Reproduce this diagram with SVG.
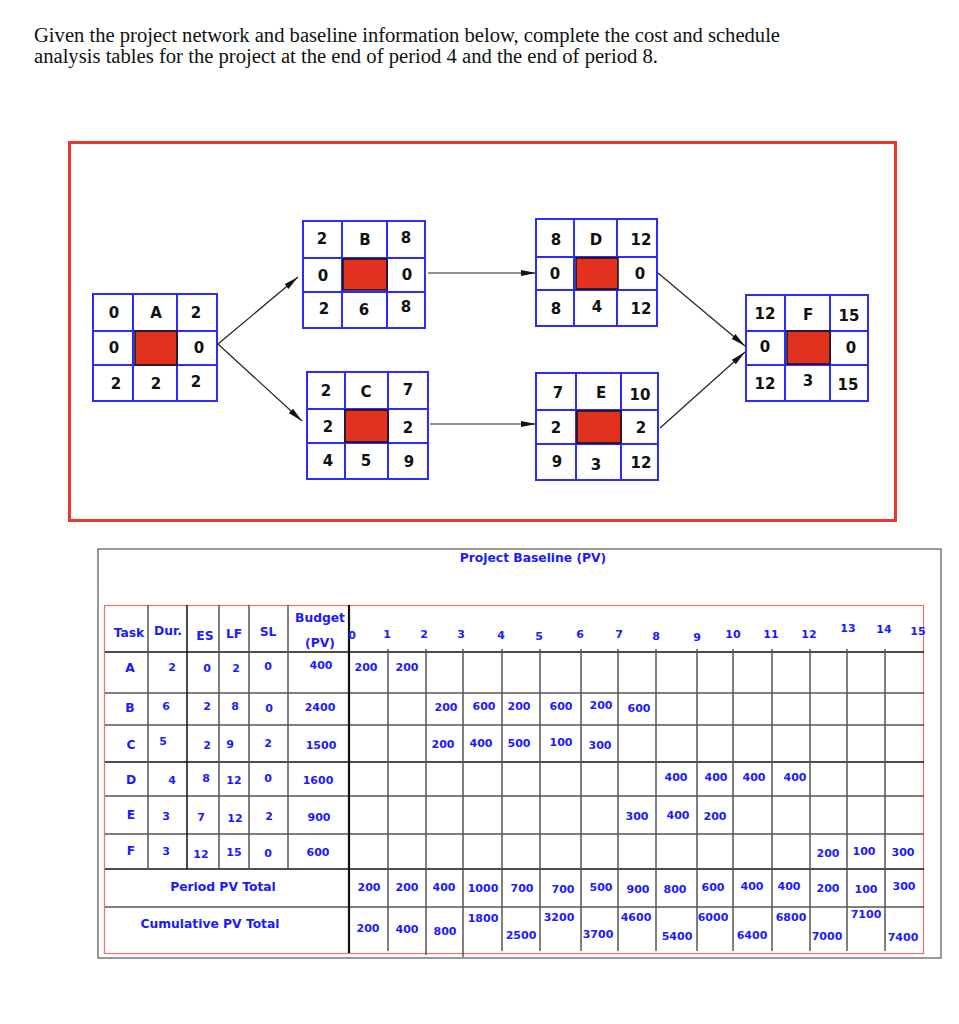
<svg xmlns="http://www.w3.org/2000/svg" width="959" height="1024" viewBox="0 0 959 1024">
<style>
.title{font-family:"Liberation Serif","Times New Roman",serif;font-size:20.5px;fill:#111}
.cell{fill:#fff;stroke:#2b2bff;stroke-width:2}
.ln{stroke:#2b2bff;stroke-width:2}
.red{fill:#e2321f;stroke:#111;stroke-width:1.5}
.nt{font-family:"DejaVu Sans",sans-serif;font-weight:bold;font-size:15px;fill:#111;text-anchor:middle}
.conn{stroke:#222;stroke-width:1.2;fill:none;marker-end:url(#ah)}
.tb{font-family:"DejaVu Sans",sans-serif;font-weight:bold;font-size:11px;fill:#1a1aff;text-anchor:middle}
.th{font-family:"DejaVu Sans",sans-serif;font-weight:bold;font-size:12.3px;fill:#1a1aff;text-anchor:middle}
.g{stroke:#555;stroke-width:1.5}
.k{stroke:#111;stroke-width:1.5}
</style>
<defs>
<marker id="ah" viewBox="0 0 15 8" refX="15" refY="4" markerWidth="15" markerHeight="8" markerUnits="userSpaceOnUse" orient="auto">
<path d="M0,1 L15,4 L0,7 Z" fill="#111"/>
</marker>
</defs>
<rect width="959" height="1024" fill="#fff"/>
<text class="title" x="34" y="42" textLength="746" lengthAdjust="spacingAndGlyphs">Given the project network and baseline information below, complete the cost and schedule</text>
<text class="title" x="34" y="63" textLength="624" lengthAdjust="spacingAndGlyphs">analysis tables for the project at the end of period 4 and the end of period 8.</text>

<rect x="69.5" y="142.5" width="826" height="378" fill="none" stroke="#e8382c" stroke-width="3"/>

<g id="connectors">
<line class="conn" x1="218" y1="344" x2="298" y2="277"/>
<line class="conn" x1="218" y1="344" x2="302" y2="421"/>
<line class="conn" x1="428" y1="273" x2="536" y2="273"/>
<line class="conn" x1="430" y1="424" x2="536" y2="424"/>
<line class="conn" x1="658" y1="273" x2="745" y2="346"/>
<line class="conn" x1="660" y1="428" x2="745" y2="352"/>
</g>

<g id="node-A">
<rect class="cell" x="93" y="294" width="124" height="107"/>
<line class="ln" x1="133" y1="294" x2="133" y2="401"/><line class="ln" x1="177" y1="294" x2="177" y2="401"/>
<line class="ln" x1="93" y1="331" x2="217" y2="331"/><line class="ln" x1="93" y1="365" x2="217" y2="365"/>
<rect class="red" x="135" y="331" width="42" height="34"/>
<text class="nt" x="114" y="318">0</text><text class="nt" x="156" y="318">A</text><text class="nt" x="196" y="318">2</text>
<text class="nt" x="114" y="353">0</text><text class="nt" x="199" y="353">0</text>
<text class="nt" x="116" y="389">2</text><text class="nt" x="156" y="389">2</text><text class="nt" x="196" y="387">2</text>
</g>

<g id="node-B">
<rect class="cell" x="303" y="221" width="122" height="107"/>
<line class="ln" x1="342" y1="221" x2="342" y2="328"/><line class="ln" x1="387" y1="221" x2="387" y2="328"/>
<line class="ln" x1="303" y1="258" x2="425" y2="258"/><line class="ln" x1="303" y1="292" x2="425" y2="292"/>
<rect class="red" x="343" y="259" width="44" height="31"/>
<text class="nt" x="322" y="244">2</text><text class="nt" x="365" y="245">B</text><text class="nt" x="406" y="243">8</text>
<text class="nt" x="323" y="281">0</text><text class="nt" x="407" y="280">0</text>
<text class="nt" x="324" y="314">2</text><text class="nt" x="364" y="315">6</text><text class="nt" x="406" y="312">8</text>
</g>

<g id="node-C">
<rect class="cell" x="307" y="372" width="121" height="107"/>
<line class="ln" x1="345" y1="372" x2="345" y2="479"/><line class="ln" x1="388" y1="372" x2="388" y2="479"/>
<line class="ln" x1="307" y1="409" x2="428" y2="409"/><line class="ln" x1="307" y1="443" x2="428" y2="443"/>
<rect class="red" x="345" y="410" width="43" height="32"/>
<text class="nt" x="326" y="396">2</text><text class="nt" x="366" y="397">C</text><text class="nt" x="408" y="395">7</text>
<text class="nt" x="328" y="432">2</text><text class="nt" x="408" y="433">2</text>
<text class="nt" x="328" y="466">4</text><text class="nt" x="366" y="466">5</text><text class="nt" x="409" y="467">9</text>
</g>

<g id="node-D">
<rect class="cell" x="536" y="219" width="121" height="107"/>
<line class="ln" x1="574" y1="219" x2="574" y2="326"/><line class="ln" x1="617" y1="219" x2="617" y2="326"/>
<line class="ln" x1="536" y1="257" x2="657" y2="257"/><line class="ln" x1="536" y1="290" x2="657" y2="290"/>
<rect class="red" x="576" y="258" width="42" height="31"/>
<text class="nt" x="556" y="245">8</text><text class="nt" x="596" y="245">D</text><text class="nt" x="641" y="245">12</text>
<text class="nt" x="555" y="279">0</text><text class="nt" x="640" y="279">0</text>
<text class="nt" x="556" y="314">8</text><text class="nt" x="597" y="312">4</text><text class="nt" x="641" y="314">12</text>
</g>

<g id="node-E">
<rect class="cell" x="536" y="373" width="122" height="107"/>
<line class="ln" x1="576" y1="373" x2="576" y2="480"/><line class="ln" x1="621" y1="373" x2="621" y2="480"/>
<line class="ln" x1="536" y1="410" x2="658" y2="410"/><line class="ln" x1="536" y1="444" x2="658" y2="444"/>
<rect class="red" x="577" y="411" width="44" height="32"/>
<text class="nt" x="558" y="398">7</text><text class="nt" x="601" y="398">E</text><text class="nt" x="640" y="400">10</text>
<text class="nt" x="556" y="433">2</text><text class="nt" x="641" y="433">2</text>
<text class="nt" x="557" y="467">9</text><text class="nt" x="596" y="470">3</text><text class="nt" x="641" y="468">12</text>
</g>

<g id="node-F">
<rect class="cell" x="746" y="295" width="122" height="106"/>
<line class="ln" x1="785" y1="295" x2="785" y2="401"/><line class="ln" x1="830" y1="295" x2="830" y2="401"/>
<line class="ln" x1="746" y1="331" x2="868" y2="331"/><line class="ln" x1="746" y1="365" x2="868" y2="365"/>
<rect class="red" x="787" y="331" width="43" height="33"/>
<text class="nt" x="765" y="319">12</text><text class="nt" x="808" y="320">F</text><text class="nt" x="849" y="321">15</text>
<text class="nt" x="765" y="352">0</text><text class="nt" x="851" y="353">0</text>
<text class="nt" x="765" y="389">12</text><text class="nt" x="808" y="386">3</text><text class="nt" x="848" y="390">15</text>
</g>

<g id="baseline-table">
<rect x="98" y="549" width="843" height="409" fill="none" stroke="#333" stroke-width="1"/>
<rect x="104.5" y="605.5" width="819" height="348" fill="none" stroke="#f07070" stroke-width="1.2"/>
<text class="th" x="533" y="562">Project Baseline (PV)</text>

<line class="k" x1="105" y1="652" x2="924" y2="652"/>
<line class="g" x1="105" y1="693" x2="924" y2="693"/>
<line class="g" x1="105" y1="725" x2="924" y2="725"/>
<line class="k" x1="105" y1="762" x2="924" y2="762"/>
<line class="g" x1="105" y1="796" x2="924" y2="796"/>
<line class="g" x1="105" y1="834" x2="924" y2="834"/>
<line class="k" x1="105" y1="869" x2="924" y2="869"/>
<line class="g" x1="105" y1="907" x2="924" y2="907"/>

<line class="g" x1="148" y1="605" x2="148" y2="869"/>
<line class="k" x1="187" y1="605" x2="187" y2="869"/>
<line class="g" x1="219" y1="605" x2="219" y2="869"/>
<line class="g" x1="249" y1="605" x2="249" y2="869"/>
<line class="g" x1="288" y1="605" x2="288" y2="869"/>
<line stroke="#111" stroke-width="2.2" x1="349" y1="605" x2="349" y2="953"/>

<g class="g">
<line x1="388" y1="649" x2="388" y2="951"/>
<line x1="426" y1="649" x2="426" y2="955"/>
<line x1="463" y1="649" x2="463" y2="957"/>
<line x1="502" y1="649" x2="502" y2="951"/>
<line x1="540" y1="649" x2="540" y2="951"/>
<line x1="581" y1="649" x2="581" y2="951"/>
<line x1="618" y1="649" x2="618" y2="951"/>
<line x1="656" y1="649" x2="656" y2="951"/>
<line x1="697" y1="649" x2="697" y2="951"/>
<line x1="733" y1="649" x2="733" y2="951"/>
<line x1="772" y1="649" x2="772" y2="951"/>
<line x1="810" y1="649" x2="810" y2="951"/>
<line x1="847" y1="649" x2="847" y2="951"/>
<line x1="885" y1="649" x2="885" y2="951"/>
</g>

<text class="th" x="129" y="637">Task</text>
<text class="th" x="168" y="635">Dur.</text>
<text class="th" x="205" y="640">ES</text>
<text class="th" x="234" y="638">LF</text>
<text class="th" x="268" y="636">SL</text>
<text class="th" x="320" y="622">Budget</text>
<text class="th" x="320" y="647">(PV)</text>
<text class="tb" x="352" y="639">0</text>
<text class="tb" x="387" y="638">1</text>
<text class="tb" x="424" y="638">2</text>
<text class="tb" x="461" y="638">3</text>
<text class="tb" x="501" y="639">4</text>
<text class="tb" x="539" y="640">5</text>
<text class="tb" x="580" y="638">6</text>
<text class="tb" x="619" y="638">7</text>
<text class="tb" x="656" y="640">8</text>
<text class="tb" x="697" y="641">9</text>
<text class="tb" x="733" y="638">10</text>
<text class="tb" x="771" y="638">11</text>
<text class="tb" x="809" y="638">12</text>
<text class="tb" x="848" y="632">13</text>
<text class="tb" x="884" y="633">14</text>
<text class="tb" x="918" y="635">15</text>

<text class="th" x="130" y="672">A</text>
<text class="tb" x="172" y="671">2</text><text class="tb" x="207" y="672">0</text><text class="tb" x="236" y="672">2</text><text class="tb" x="268" y="670">0</text><text class="tb" x="321" y="669">400</text>
<text class="tb" x="366" y="671">200</text><text class="tb" x="407" y="671">200</text>
<text class="th" x="130" y="712">B</text>
<text class="tb" x="166" y="710">6</text><text class="tb" x="207" y="710">2</text><text class="tb" x="235" y="710">8</text><text class="tb" x="269" y="712">0</text><text class="tb" x="320" y="711">2400</text>
<text class="tb" x="446" y="711">200</text><text class="tb" x="484" y="710">600</text><text class="tb" x="519" y="710">200</text><text class="tb" x="561" y="710">600</text><text class="tb" x="601" y="709">200</text><text class="tb" x="639" y="712">600</text>
<text class="th" x="131" y="749">C</text>
<text class="tb" x="163" y="745">5</text><text class="tb" x="207" y="749">2</text><text class="tb" x="230" y="748">9</text><text class="tb" x="268" y="747">2</text><text class="tb" x="321" y="749">1500</text>
<text class="tb" x="443" y="748">200</text><text class="tb" x="481" y="747">400</text><text class="tb" x="519" y="747">500</text><text class="tb" x="561" y="746">100</text><text class="tb" x="600" y="749">300</text>
<text class="th" x="131" y="784">D</text>
<text class="tb" x="172" y="784">4</text><text class="tb" x="206" y="782">8</text><text class="tb" x="234" y="784">12</text><text class="tb" x="268" y="782">0</text><text class="tb" x="318" y="784">1600</text>
<text class="tb" x="676" y="781">400</text><text class="tb" x="716" y="781">400</text><text class="tb" x="754" y="781">400</text><text class="tb" x="795" y="781">400</text>
<text class="th" x="131" y="819">E</text>
<text class="tb" x="166" y="820">3</text><text class="tb" x="201" y="821">7</text><text class="tb" x="235" y="822">12</text><text class="tb" x="269" y="820">2</text><text class="tb" x="319" y="821">900</text>
<text class="tb" x="637" y="820">300</text><text class="tb" x="678" y="819">400</text><text class="tb" x="715" y="820">200</text>
<text class="th" x="131" y="855">F</text>
<text class="tb" x="166" y="855">3</text><text class="tb" x="201" y="858">12</text><text class="tb" x="234" y="856">15</text><text class="tb" x="268" y="857">0</text><text class="tb" x="318" y="856">600</text>
<text class="tb" x="828" y="857">200</text><text class="tb" x="864" y="855">100</text><text class="tb" x="903" y="856">300</text>
<text class="th" x="223" y="891">Period PV Total</text>
<text class="tb" x="369" y="891">200</text><text class="tb" x="407" y="891">200</text><text class="tb" x="444" y="891">400</text><text class="tb" x="483" y="892">1000</text><text class="tb" x="522" y="892">700</text><text class="tb" x="563" y="893">700</text><text class="tb" x="601" y="891">500</text><text class="tb" x="638" y="893">900</text><text class="tb" x="675" y="893">800</text><text class="tb" x="713" y="891">600</text><text class="tb" x="752" y="890">400</text><text class="tb" x="789" y="890">400</text><text class="tb" x="828" y="892">200</text><text class="tb" x="866" y="893">100</text><text class="tb" x="904" y="890">300</text>
<text class="th" x="210" y="928">Cumulative PV Total</text>
<text class="tb" x="368" y="932">200</text><text class="tb" x="407" y="933">400</text><text class="tb" x="445" y="935">800</text><text class="tb" x="483" y="922">1800</text><text class="tb" x="521" y="939">2500</text><text class="tb" x="559" y="921">3200</text><text class="tb" x="598" y="938">3700</text><text class="tb" x="636" y="921">4600</text><text class="tb" x="677" y="940">5400</text><text class="tb" x="713" y="921">6000</text><text class="tb" x="752" y="939">6400</text><text class="tb" x="791" y="921">6800</text><text class="tb" x="827" y="940">7000</text><text class="tb" x="866" y="918">7100</text><text class="tb" x="903" y="941">7400</text>
</g>
</svg>
